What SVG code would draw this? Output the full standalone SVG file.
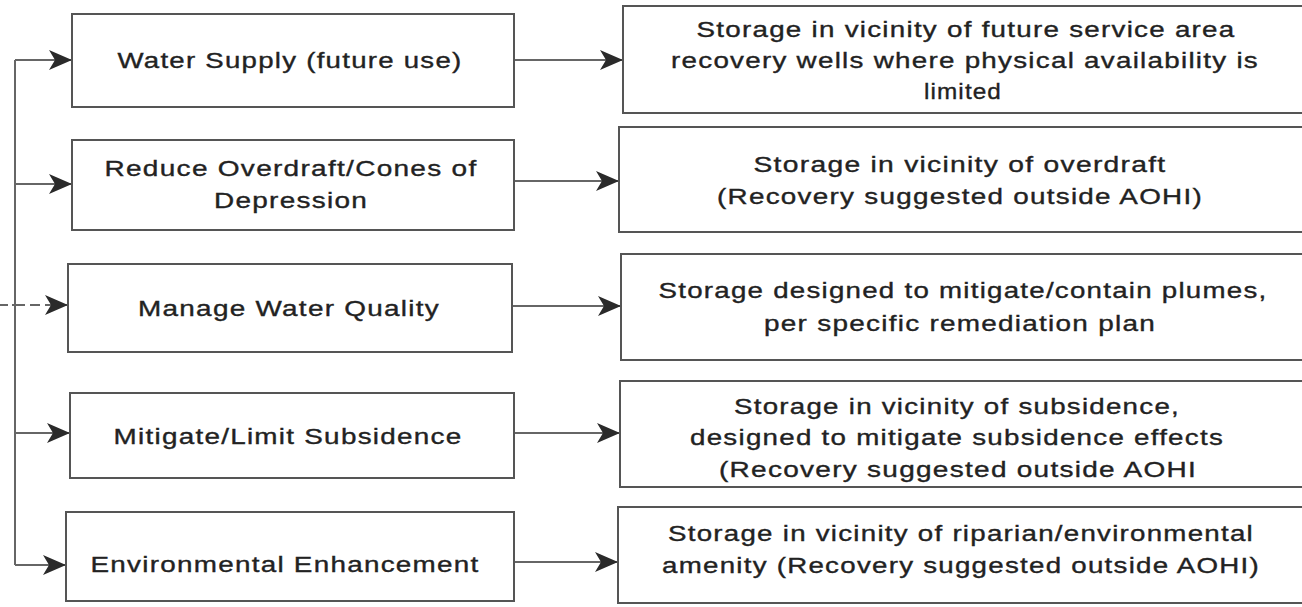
<svg xmlns="http://www.w3.org/2000/svg" width="1302" height="607" viewBox="0 0 1302 607">
<defs>
<marker id="ah" markerUnits="userSpaceOnUse" markerWidth="24" markerHeight="22" refX="23" refY="10" orient="auto" viewBox="0 0 24 22">
<path d="M0,0 L23,10 L0,20 L6,10 z" fill="#2a2a2a"/>
</marker>
<style>
.box{fill:#fff;stroke:#555;stroke-width:2}
.t{font-family:"Liberation Sans",Arial,sans-serif;font-size:22px;fill:#222;stroke:#222;stroke-width:0.35;text-anchor:middle;letter-spacing:1px}
.c{fill:none;stroke:#666;stroke-width:2}
.a{fill:none;stroke:#666;stroke-width:2;marker-end:url(#ah)}
</style>
</defs>
<rect width="1302" height="607" fill="#fff"/>
<g id="connectors">
<line class="c" x1="15" y1="60" x2="15" y2="565"/>
<line class="c" x1="0" y1="305" x2="15" y2="305" stroke-dasharray="8,4"/>
<line class="a" x1="15" y1="60" x2="72" y2="60"/>
<line class="a" x1="15" y1="184" x2="72" y2="184"/>
<line class="a" x1="15" y1="305" x2="68" y2="305" stroke-dasharray="10,5"/>
<line class="a" x1="15" y1="433" x2="70" y2="433"/>
<line class="a" x1="15" y1="565" x2="66" y2="565"/>
<line class="a" x1="514" y1="60" x2="623" y2="60"/>
<line class="a" x1="514" y1="181" x2="619" y2="181"/>
<line class="a" x1="512" y1="306" x2="621" y2="306"/>
<line class="a" x1="514" y1="433" x2="620" y2="433"/>
<line class="a" x1="514" y1="562" x2="618" y2="562"/>
</g>
<g id="n1"><rect class="box" x="72" y="14" width="442" height="93"/><text class="t" x="290" y="68" textLength="345" lengthAdjust="spacingAndGlyphs">Water Supply (future use)</text></g>
<g id="n2"><rect class="box" x="72" y="140" width="442" height="90"/><text class="t" x="291" y="176" textLength="373" lengthAdjust="spacingAndGlyphs">Reduce Overdraft/Cones of</text><text class="t" x="291" y="208" textLength="154" lengthAdjust="spacingAndGlyphs">Depression</text></g>
<g id="n3"><rect class="box" x="68" y="264" width="444" height="88"/><text class="t" x="289" y="316" textLength="302" lengthAdjust="spacingAndGlyphs">Manage Water Quality</text></g>
<g id="n4"><rect class="box" x="70" y="393" width="444" height="85"/><text class="t" x="288" y="444" textLength="349" lengthAdjust="spacingAndGlyphs">Mitigate/Limit Subsidence</text></g>
<g id="n5"><rect class="box" x="66" y="512" width="448" height="89"/><text class="t" x="285" y="572" textLength="389" lengthAdjust="spacingAndGlyphs">Environmental Enhancement</text></g>
<g id="r1"><rect class="box" x="623" y="6" width="700" height="107"/><text class="t" x="966" y="37" textLength="539" lengthAdjust="spacingAndGlyphs">Storage in vicinity of future service area</text><text class="t" x="965" y="68" textLength="588" lengthAdjust="spacingAndGlyphs">recovery wells where physical availability is</text><text class="t" x="963" y="99" textLength="78" lengthAdjust="spacingAndGlyphs">limited</text></g>
<g id="r2"><rect class="box" x="619" y="127" width="700" height="105"/><text class="t" x="960" y="172" textLength="413" lengthAdjust="spacingAndGlyphs">Storage in vicinity of overdraft</text><text class="t" x="960" y="204" textLength="486" lengthAdjust="spacingAndGlyphs">(Recovery suggested outside AOHI)</text></g>
<g id="r3"><rect class="box" x="621" y="254" width="700" height="106"/><text class="t" x="963" y="298" textLength="609" lengthAdjust="spacingAndGlyphs">Storage designed to mitigate/contain plumes,</text><text class="t" x="960" y="331" textLength="392" lengthAdjust="spacingAndGlyphs">per specific remediation plan</text></g>
<g id="r4"><rect class="box" x="620" y="381" width="700" height="106"/><text class="t" x="957" y="414" textLength="446" lengthAdjust="spacingAndGlyphs">Storage in vicinity of subsidence,</text><text class="t" x="957" y="445" textLength="534" lengthAdjust="spacingAndGlyphs">designed to mitigate subsidence effects</text><text class="t" x="958" y="477" textLength="478" lengthAdjust="spacingAndGlyphs">(Recovery suggested outside AOHI</text></g>
<g id="r5"><rect class="box" x="618" y="507" width="700" height="96"/><text class="t" x="961" y="541" textLength="586" lengthAdjust="spacingAndGlyphs">Storage in vicinity of riparian/environmental</text><text class="t" x="961" y="573" textLength="598" lengthAdjust="spacingAndGlyphs">amenity (Recovery suggested outside AOHI)</text></g>
</svg>
